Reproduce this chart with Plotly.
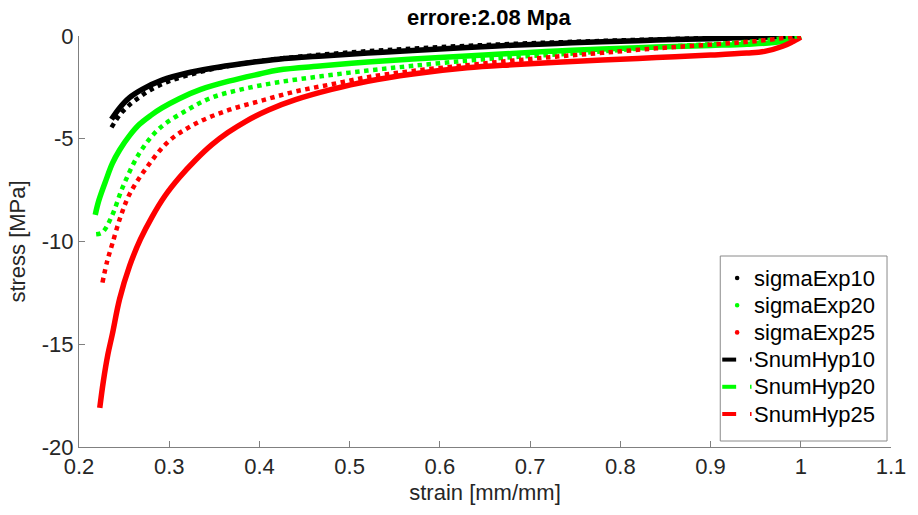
import plotly.graph_objects as go

# ---- data ----
exp10_x = [0.236, 0.245, 0.256, 0.27, 0.292, 0.32, 0.347, 0.38, 0.421, 0.47, 0.52, 0.57, 0.63, 0.68, 0.73, 0.78, 0.84, 0.9, 0.95, 1.0]
exp10_y = [-4.05, -3.5, -3.0, -2.6, -2.15, -1.8, -1.57, -1.35, -1.13, -0.97, -0.83, -0.7, -0.56, -0.45, -0.36, -0.28, -0.2, -0.13, -0.07, 0.0]

exp20_x = [0.218, 0.222, 0.23, 0.237, 0.245, 0.256, 0.267, 0.28, 0.292, 0.311, 0.335, 0.366, 0.4, 0.421, 0.47, 0.52, 0.57, 0.63, 0.68, 0.73, 0.78, 0.84, 0.9, 0.94, 0.97, 0.99, 1.0]
exp20_y = [-8.7, -8.0, -7.0, -6.2, -5.55, -4.85, -4.3, -3.85, -3.5, -3.05, -2.6, -2.2, -1.85, -1.65, -1.45, -1.27, -1.12, -0.97, -0.85, -0.73, -0.63, -0.54, -0.46, -0.4, -0.32, -0.18, 0.0]

exp25_x = [0.223, 0.227, 0.232, 0.237, 0.245, 0.256, 0.268, 0.281, 0.295, 0.311, 0.33, 0.347, 0.365, 0.385, 0.41, 0.44, 0.48, 0.52, 0.57, 0.63, 0.68, 0.73, 0.78, 0.84, 0.9, 0.94, 0.96, 0.98, 0.99, 1.0]
exp25_y = [-18.1, -16.8, -15.5, -14.5, -12.8, -11.2, -9.9, -8.8, -7.8, -6.9, -6.0, -5.3, -4.7, -4.15, -3.6, -3.1, -2.6, -2.2, -1.85, -1.55, -1.4, -1.28, -1.17, -1.05, -0.93, -0.83, -0.75, -0.5, -0.3, -0.05]

hyp10_x = [0.236, 0.245, 0.256, 0.268, 0.28, 0.3, 0.33, 0.36, 0.4, 0.45, 0.5, 0.55, 0.6, 0.65, 0.7, 0.75, 0.8, 0.85, 0.9, 0.95, 1.0]
hyp10_y = [-4.45, -3.85, -3.35, -2.95, -2.6, -2.2, -1.8, -1.5, -1.22, -0.98, -0.8, -0.66, -0.54, -0.44, -0.35, -0.28, -0.21, -0.15, -0.1, -0.05, 0.0]

hyp20_x = [0.219, 0.226, 0.236, 0.249, 0.267, 0.289, 0.32, 0.347, 0.38, 0.421, 0.47, 0.52, 0.57, 0.63, 0.68, 0.73, 0.78, 0.84, 0.9, 0.95, 1.0]
hyp20_y = [-9.65, -9.55, -8.8, -7.3, -5.7, -4.5, -3.6, -3.0, -2.6, -2.25, -1.95, -1.68, -1.45, -1.2, -1.03, -0.9, -0.75, -0.55, -0.4, -0.25, 0.0]

hyp25_x = [0.226, 0.231, 0.237, 0.246, 0.256, 0.275, 0.3, 0.33, 0.366, 0.402, 0.44, 0.48, 0.52, 0.57, 0.63, 0.68, 0.73, 0.78, 0.84, 0.9, 0.95, 1.0]
hyp25_y = [-12.0, -11.0, -10.1, -8.8, -7.7, -6.4, -5.1, -4.25, -3.6, -3.15, -2.7, -2.35, -2.0, -1.7, -1.42, -1.2, -1.0, -0.82, -0.6, -0.42, -0.25, 0.0]

x_ticks = [0.2, 0.3, 0.4, 0.5, 0.6, 0.7, 0.8, 0.9, 1.0, 1.1]
x_tick_text = ["0.2", "0.3", "0.4", "0.5", "0.6", "0.7", "0.8", "0.9", "1", "1.1"]
y_ticks = [-20, -15, -10, -5, 0]
y_tick_text = ["-20", "-15", "-10", "-5", "0"]

exp_names = ["sigmaExp10", "sigmaExp20", "sigmaExp25"]
hyp_names = ["SnumHyp10", "SnumHyp20", "SnumHyp25"]
colors = ["#000000", "#00ff00", "#ff0000"]

FONT = "Arial, 'Liberation Sans', sans-serif"
TXT = "#262626"

# plot-area geometry in pixels
W, H = 918, 515
L, R, T, B = 79, 21, 36, 68
PW, PH = W - L - R, H - T - B


def px(xp):
    return (xp - L) / PW


def py(yp):
    return (H - B - yp) / PH


fig = go.Figure()

exp_series = [(exp10_x, exp10_y), (exp20_x, exp20_y), (exp25_x, exp25_y)]
hyp_series = [(hyp10_x, hyp10_y), (hyp20_x, hyp20_y), (hyp25_x, hyp25_y)]

for (xs, ys), c, n in zip(exp_series, colors, exp_names):
    fig.add_trace(go.Scatter(x=xs, y=ys, mode="lines", name=n,
                             line=dict(color=c, width=5.5, shape="spline"),
                             showlegend=False))
for (xs, ys), c, n in zip(hyp_series, colors, hyp_names):
    fig.add_trace(go.Scatter(x=xs, y=ys, mode="lines", name=n,
                             line=dict(color=c, width=4.5, dash="dot", shape="spline"),
                             showlegend=False))

# ---- legend drawn as a box (MATLAB style) ----
shapes = []
annotations = []
box_l, box_r, box_t, box_b = 725, 893, 256, 441
shapes.append(dict(type="rect", xref="paper", yref="paper", x0=px(box_l), x1=px(box_r),
                   y0=py(box_b), y1=py(box_t), line=dict(color="#8a8a8a", width=1),
                   fillcolor="white", layer="above"))
row_y = [278 + i * 27.2 for i in range(6)]
labels = exp_names + hyp_names
for i, (lab, yy) in enumerate(zip(labels, row_y)):
    c = colors[i % 3]
    if i < 3:
        r = 2.3
        shapes.append(dict(type="circle", xref="paper", yref="paper",
                           x0=px(742 - r), x1=px(742 + r), y0=py(yy + r), y1=py(yy - r),
                           line=dict(width=0), fillcolor=c, layer="above"))
    else:
        shapes.append(dict(type="line", xref="paper", yref="paper",
                           x0=px(727), x1=px(741), y0=py(yy), y1=py(yy),
                           line=dict(color=c, width=4), layer="above"))
        shapes.append(dict(type="line", xref="paper", yref="paper",
                           x0=px(755), x1=px(756.5), y0=py(yy), y1=py(yy),
                           line=dict(color=c, width=4), layer="above"))
    annotations.append(dict(xref="paper", yref="paper", x=px(757), y=py(yy), text=lab,
                            showarrow=False, xanchor="left", yanchor="middle",
                            font=dict(family=FONT, size=22, color="#000000")))

fig.update_layout(
    width=W, height=H,
    margin=dict(l=L, r=R, t=T, b=B),
    paper_bgcolor="white", plot_bgcolor="white",
    font=dict(family=FONT, size=22, color=TXT),
    showlegend=False,
    title=dict(text="<b>errore:2.08 Mpa</b>", x=0.5325, xanchor="center", y=0.967, yanchor="middle",
               font=dict(family=FONT, size=22, color="#000000")),
    xaxis=dict(range=[0.2, 1.1], tickvals=x_ticks, ticktext=x_tick_text, ticks="inside", ticklen=6,
               tickcolor="#808080", showline=True, linecolor="#808080", linewidth=1, showgrid=False,
               zeroline=False, mirror=False,
               title=dict(text="strain [mm/mm]", font=dict(size=22, color=TXT), standoff=6)),
    yaxis=dict(range=[-20, 0], tickvals=y_ticks, ticktext=y_tick_text, ticks="inside", ticklen=6,
               tickcolor="#808080", showline=True, linecolor="#808080", linewidth=1, showgrid=False,
               zeroline=False, mirror=False,
               title=dict(text="stress [MPa]", font=dict(size=22, color=TXT), standoff=10)),
    shapes=shapes,
    annotations=annotations,
)

fig.write_html("out.html")
